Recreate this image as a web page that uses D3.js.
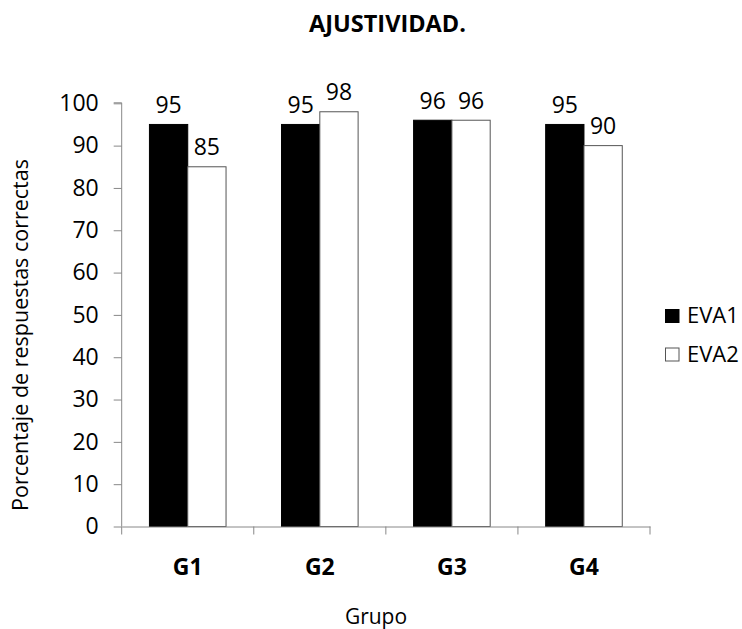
<!DOCTYPE html>
<html><head><meta charset="utf-8">
<script src="https://cdn.jsdelivr.net/npm/d3@7"></script>
<style>body{margin:0;background:#fff}svg{display:block}</style>
</head><body>
<svg id="c" width="742" height="629"></svg>
<script>
const categories = ["G1","G2","G3","G4"];
const seriesNames = ["EVA1","EVA2"];
const eva1 = [95,95,96,95];
const eva2 = [85,98,96,90];
const yTicks = [0,10,20,30,40,50,60,70,80,90,100];

const font = "'Open Sans', sans-serif";
const svg = d3.select("#c");
const m = {left:121.7, right:650, top:103.3, bottom:526.5};
const x = d3.scaleBand().domain(categories).range([m.left, m.right]).paddingInner(0).paddingOuter(0);
const y = d3.scaleLinear().domain([0,100]).range([m.bottom, m.top]);
const bw = 38.3;
const colors = ["#000000","#ffffff"];
const data = [eva1, eva2];

// bars
data.forEach((vals, s) => {
  svg.append("g").selectAll("rect").data(categories).join("rect")
    .attr("x", c => x(c) + x.bandwidth()/2 - bw + s*bw)
    .attr("y", (c,i) => y(vals[i]))
    .attr("width", bw)
    .attr("height", (c,i) => y(0) - y(vals[i]))
    .attr("fill", colors[s])
    .attr("stroke", s===0 ? "#000" : "#555")
    .attr("stroke-width", 1);
  svg.append("g").selectAll("text").data(categories).join("text")
    .attr("x", c => x(c) + x.bandwidth()/2 - bw/2 + s*bw)
    .attr("y", (c,i) => y(vals[i]) - 11.5)
    .attr("text-anchor","middle")
    .style("font-family", font).style("font-size","23px").attr("fill","#000")
    .text((c,i) => vals[i]);
});

// y axis
const ya = svg.append("g").attr("transform",`translate(${m.left},0)`)
  .call(d3.axisLeft(y).tickValues(yTicks).tickSize(8).tickPadding(15));
ya.select(".domain").attr("stroke","#888").attr("d",`M0,${m.top-0.5}H-8M0,${m.top-0.5}V${m.bottom}`);
ya.selectAll(".tick line").attr("stroke","#888");
ya.selectAll(".tick text").style("font-family",font).style("font-size","23px").attr("fill","#000");

// x axis
const xa = svg.append("g").attr("transform",`translate(0,${m.bottom})`)
  .call(d3.axisBottom(x).tickSize(0));
xa.select(".domain").attr("stroke","#888");
xa.selectAll(".tick text").attr("dy", null).attr("y", 574.5 - m.bottom)
  .style("font-family",font).style("font-size","23px").style("font-weight","bold").attr("fill","#000");
const bounds = [...categories.map(c => x(c)), m.right];
svg.append("g").selectAll("line").data(bounds).join("line")
  .attr("x1", d=>d).attr("x2", d=>d)
  .attr("y1", m.bottom).attr("y2", m.bottom+8)
  .attr("stroke","#888");

// titles
svg.append("text").attr("x", 387.5).attr("y", 32).attr("text-anchor","middle")
  .style("font-family",font).style("font-size","23.5px").style("font-weight","bold").text("AJUSTIVIDAD.");
svg.append("text").attr("x", 376).attr("y", 624).attr("text-anchor","middle")
  .style("font-family",font).style("font-size","21px").text("Grupo");
svg.append("text").attr("transform","translate(28,335) rotate(-90)").attr("text-anchor","middle")
  .style("font-family",font).style("font-size","21.5px").text("Porcentaje de respuestas correctas");

// legend
const lg = svg.append("g");
const lgY = [323, 361.5];
seriesNames.forEach((n,i) => {
  const yy = lgY[i];
  lg.append("rect").attr("x",665.5).attr("y",yy-13.5).attr("width",13.5).attr("height",13)
    .attr("fill",colors[i]).attr("stroke", i===0?"#000":"#555");
  lg.append("text").attr("x",687).attr("y",yy).style("font-family",font).style("font-size","22px").text(n);
});
</script>
</body></html>
